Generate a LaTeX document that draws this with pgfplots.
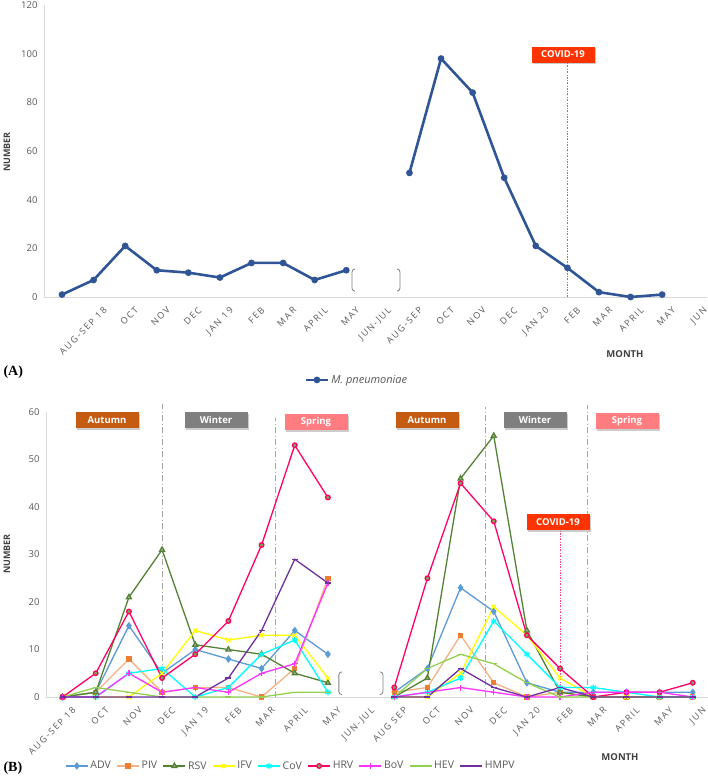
\documentclass[border=0pt]{standalone}
\usepackage{pgfplots}
\pgfplotsset{compat=1.18}
\usepackage{pgfplotstable}
\usepackage{fontspec}
\setmainfont{Open Sans}
\newfontfamily\spaced[LetterSpace=18]{Open Sans}
\newfontfamily\serifb{Liberation Serif}
\usetikzlibrary{shadows}

\definecolor{tickgray}{HTML}{595959}
\definecolor{axgray}{HTML}{D9D9D9}
\definecolor{mpblue}{HTML}{2F5597}
\definecolor{cADV}{HTML}{5B9BD5}
\definecolor{cPIVl}{HTML}{F4B183}
\definecolor{cPIVm}{HTML}{ED7D31}
\definecolor{cRSV}{HTML}{548235}
\definecolor{cRSVm}{HTML}{A9B59E}
\definecolor{cIFV}{HTML}{FFFF00}
\definecolor{cCoV}{HTML}{00FFFF}
\definecolor{cHRV}{HTML}{FF0066}
\definecolor{cHRVm}{HTML}{70AD47}
\definecolor{cBoV}{HTML}{FF33FF}
\definecolor{cHEV}{HTML}{92D050}
\definecolor{cHMPV}{HTML}{7030A0}
\definecolor{autumn}{HTML}{C55A11}
\definecolor{winter}{HTML}{7F7F7F}
\definecolor{spring}{HTML}{FF7C80}
\definecolor{covid}{HTML}{FF3300}
\definecolor{covred}{HTML}{FF4D4D}

% panel B counts, row 9 is the JUN-JUL gap
\pgfplotstableread{
x ADV PIV RSV IFV CoV HRV BoV HEV HMPV
0 0 0 0 0 0 0 0 0 0
1 1 1 1 0 0 5 0 2 0
2 15 8 21 0 5 18 5 1 0
3 5 1 31 5 6 4 1 0 0
4 10 2 11 14 0 9 2 0 0
5 8 2 10 12 2 16 1 0 4
6 6 0 9 13 9 32 5 0 14
7 14 6 5 13 12 53 7 1 29
8 9 25 3 4 1 42 24 1 24
9 nan nan nan nan nan nan nan nan nan
10 1 1 0 0 0 2 0 0 0
11 6 2 4 0 1 25 1 6 0
12 23 13 46 5 4 45 2 9 6
13 18 3 55 19 16 37 1 7 2
14 3 0 14 13 9 13 0 3 0
15 1 1 1 4 2 6 0 0 2
16 1 0 0 0 2 0 1 0 0
17 1 0 0 0 1 1 1 0 0
18 1 0 0 0 0 1 1 0 0
19 1 0 0 0 0 3 0 0 0
}\tabB

\pgfplotsset{
 excel/.style={
  scale only axis, clip=false, unbounded coords=jump,
  axis lines=left,
  every outer x axis line/.append style={-}, every outer y axis line/.append style={-},
  every inner x axis line/.append style={-}, every inner y axis line/.append style={-},
  axis line style={draw=axgray, line width=0.9pt},
  major tick length=0pt,
  /pgf/number format/assume math mode=true,
  yticklabel style={font=\fontsize{9.5}{10}\selectfont, text=tickgray, xshift=-3pt},
  xticklabel style={font=\spaced\fontsize{9}{10}\selectfont, text=tickgray, rotate=45,
   anchor=north east, inner sep=0pt, yshift=-13pt},
  legend image code/.code={\draw[mark repeat=2,mark phase=2] plot coordinates {(0pt,0pt)(11pt,0pt)(22pt,0pt)};},
  legend style={draw=none, fill=none, font=\fontsize{10.5}{11}\selectfont, text=tickgray,
   /tikz/every even column/.append style={column sep=3.5pt}},
 },
}
\tikzset{
 seasonline/.style={draw=black!35, line width=0.9pt, dash pattern=on 6pt off 2.5pt on 1pt off 2.5pt},
 covline/.style={line width=0.8pt, dash pattern=on 2pt off 1.5pt on 0.6pt off 1.5pt},
 box/.style={text=white, font=\bfseries\fontsize{9.5}{10}\selectfont, minimum width=63pt, minimum height=16pt,
  inner sep=0pt, drop shadow={shadow xshift=1.5pt, shadow yshift=-1.5pt, fill=black!40}},
}

\newcommand{\lbr}[3]{\draw[winter, line width=0.8pt] ([xshift=3pt]axis cs:#1,#2) arc[start angle=90,end angle=180,radius=3pt] -- ([yshift=3pt]axis cs:#1,#3) arc[start angle=180,end angle=270,radius=3pt];}
\newcommand{\rbr}[3]{\draw[winter, line width=0.8pt] ([xshift=-3pt]axis cs:#1,#2) arc[start angle=90,end angle=0,radius=3pt] -- ([yshift=3pt]axis cs:#1,#3) arc[start angle=0,end angle=-90,radius=3pt];}

\begin{document}
\begin{tikzpicture}
\path[use as bounding box] (0pt,-777pt) rectangle (708pt,0pt);

% ---------- panel A
\begin{axis}[excel, at={(44pt,-297pt)}, anchor=south west, width=663pt, height=292pt,
 xmin=-0.57, xmax=20.42, ymin=0, ymax=120, ytick={0,20,...,120},
 xtick={0,...,20},
 xticklabels={,AUG-SEP 18,OCT,NOV,DEC,JAN 19,FEB,MAR,APRIL,MAY,JUN-JUL,AUG-SEP,OCT,NOV,DEC,JAN 20,FEB,MAR,APRIL,MAY,JUN},
 legend style={at={(0.472,-0.284)}, anchor=center, font=\fontsize{11}{12}\selectfont}]
 \draw[covline, draw=covred] (axis cs:16,0) -- (axis cs:16,96);
 \addplot[mpblue, line width=2.6pt, mark=*, mark size=2pt] coordinates {
  (0,1)(1,7)(2,21)(3,11)(4,10)(5,8)(6,14)(7,14)(8,7)(9,11)(10,nan)
  (11,51)(12,98)(13,84)(14,49)(15,21)(16,12)(17,2)(18,0)(19,1)};
 \addlegendentry{\textit{M. pneumoniae}}
 \lbr{9.18}{11.5}{2.4}
 \rbr{10.70}{11.5}{2.4}
\end{axis}
\node[box, fill=covid] at (563pt,-54.5pt) {COVID-19};

% ---------- panel B
\begin{axis}[excel, at={(46pt,-697pt)}, anchor=south west, width=662pt, height=285pt,
 xmin=-0.5, xmax=19.46, ymin=0, ymax=60, ytick={0,10,...,60},
 xtick={0,...,19},
 xticklabels={AUG-SEP 18,OCT,NOV,DEC,JAN 19,FEB,MAR,APRIL,MAY,JUN-JUL,AUG SEP,OCT,NOV,DEC,JAN 20,FEB,MAR,APRIL,MAY,JUN},
 legend columns=9, legend style={at={(0.370,-0.242)}, anchor=center},
 every axis plot/.append style={line width=1.3pt, mark size=2.3pt}]
 \draw[seasonline] (axis cs:3.0,0) -- (axis cs:3.0,61.7);
 \draw[seasonline] (axis cs:6.42,0) -- (axis cs:6.42,58.7);
 \draw[seasonline] (axis cs:12.76,0) -- (axis cs:12.76,61.1);
 \draw[seasonline] (axis cs:15.83,0) -- (axis cs:15.83,61.5);
 \draw[covline, draw=cHRV!75] (axis cs:15,0) -- (axis cs:15,35);
 \addplot[cADV, mark=diamond*, mark size=2.8pt] table[x=x,y=ADV] {\tabB};
 \addlegendentry{ADV}
 \addplot[cPIVl, mark=square*, mark options={fill=cPIVm, draw=cPIVm}, mark size=2pt] table[x=x,y=PIV] {\tabB};
 \addlegendentry{PIV}
 \addplot[cRSV, mark=triangle*, mark options={fill=cRSVm, draw=cRSV}, mark size=2.8pt] table[x=x,y=RSV] {\tabB};
 \addlegendentry{RSV}
 \addplot[cIFV, mark=x, mark size=3pt] table[x=x,y=IFV] {\tabB};
 \addlegendentry{IFV}
 \addplot[cCoV, mark=asterisk, mark size=3pt] table[x=x,y=CoV] {\tabB};
 \addlegendentry{CoV}
 \addplot[cHRV, mark=*, mark options={fill=cHRVm, draw=cHRV}] table[x=x,y=HRV] {\tabB};
 \addlegendentry{HRV}
 \addplot[cBoV, mark=+, mark size=3pt] table[x=x,y=BoV] {\tabB};
 \addlegendentry{BoV}
 \addplot[cHEV, mark=-, mark size=3pt] table[x=x,y=HEV] {\tabB};
 \addlegendentry{HEV}
 \addplot[cHMPV, mark=-, mark size=3pt] table[x=x,y=HMPV] {\tabB};
 \addlegendentry{HMPV}
 \lbr{8.33}{5.3}{0.5}
 \rbr{9.66}{5.3}{0.5}
\end{axis}
\node[box, fill=autumn] at (107pt,-420pt) {Autumn};
\node[box, fill=winter] at (216pt,-420pt) {Winter};
\node[box, fill=spring] at (316pt,-422pt) {Spring};
\node[box, fill=autumn] at (427pt,-420pt) {Autumn};
\node[box, fill=winter] at (535pt,-420pt) {Winter};
\node[box, fill=spring] at (627pt,-421pt) {Spring};
\node[box, fill=covid] at (558pt,-522pt) {COVID-19};

% labels
\node[rotate=90, font=\bfseries\fontsize{9}{10}\selectfont, text=black!75] at (7pt,-152pt) {NUMBER};
\node[rotate=90, font=\bfseries\fontsize{9}{10}\selectfont, text=black!75] at (7pt,-554pt) {NUMBER};
\node[font=\bfseries\fontsize{9.5}{10}\selectfont, text=black!75] at (625pt,-354pt) {MONTH};
\node[font=\bfseries\fontsize{9.5}{10}\selectfont, text=black!75] at (620pt,-757pt) {MONTH};
\node[font=\serifb\bfseries\fontsize{14}{15}\selectfont, anchor=west] at (0pt,-372pt) {(A)};
\node[font=\serifb\bfseries\fontsize{14}{15}\selectfont, anchor=west] at (0pt,-768pt) {(B)};
\end{tikzpicture}
\end{document}
